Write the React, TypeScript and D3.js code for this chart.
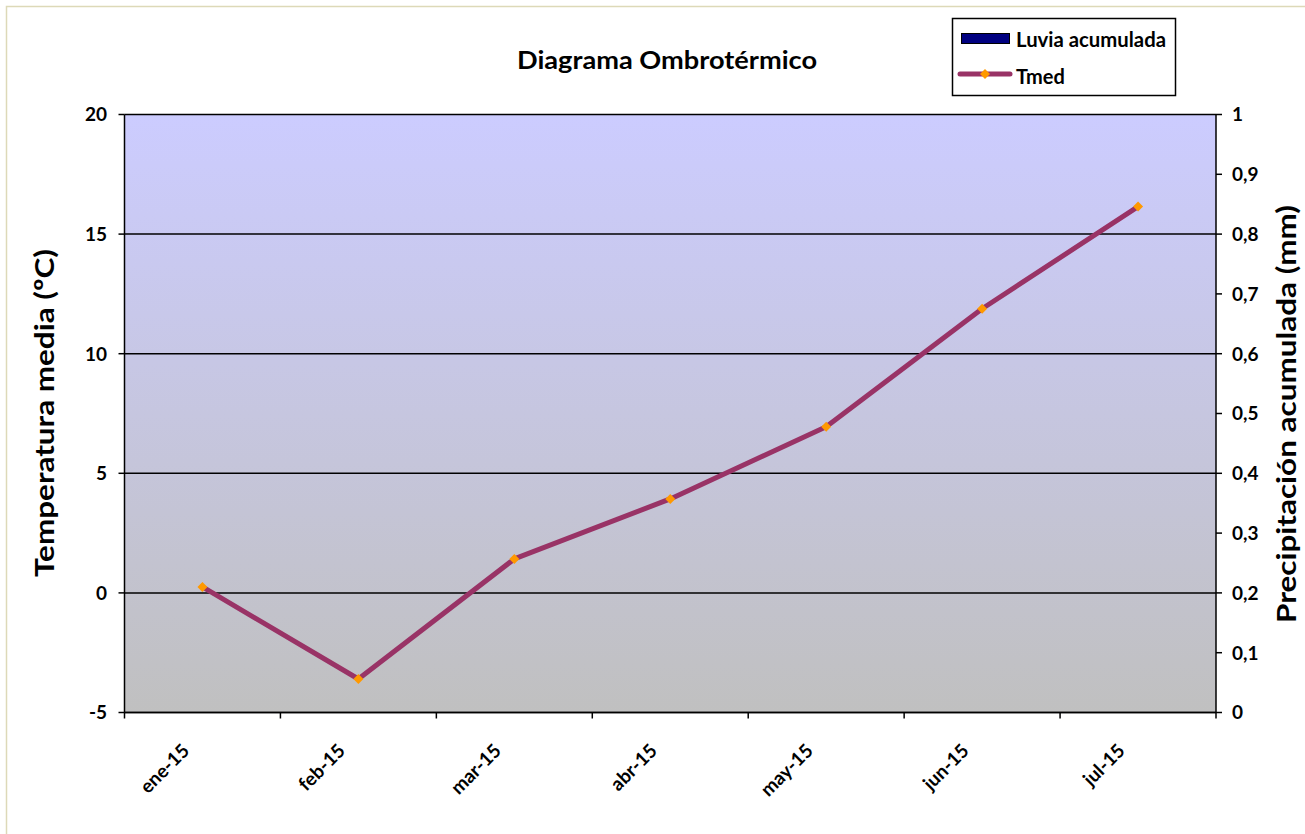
import React from "react";
import * as d3 from "d3";

const categories = ["ene-15", "feb-15", "mar-15", "abr-15", "may-15", "jun-15", "jul-15"];
const tmed = [0.25, -3.6, 1.42, 3.93, 6.95, 11.88, 16.15];
const leftTicks = [-5, 0, 5, 10, 15, 20];
const rightTicks = [0, 0.1, 0.2, 0.3, 0.4, 0.5, 0.6, 0.7, 0.8, 0.9, 1];

const W = 1305, H = 834;
const L = 124.5, R = 1216, T = 114.5, B = 712.5;
const FONT = "Lato, 'Open Sans', sans-serif";

export default function App() {
  const x = d3.scaleBand().domain(categories).range([L, R]);
  const y = d3.scaleLinear().domain([-5, 20]).range([B, T]);
  const y2 = d3.scaleLinear().domain([0, 1]).range([B, T]);
  const line = d3.line<number>().x((_, i) => x(categories[i])! + x.bandwidth() / 2).y((d) => y(d));
  const fmt = (v: number) => (v === 0 || v === 1 ? String(v) : v.toFixed(1).replace(".", ","));
  const diamond = (cx: number, cy: number, r: number) => `M${cx},${cy - r}L${cx + r},${cy}L${cx},${cy + r}L${cx - r},${cy}Z`;
  return (
    <svg width={W} height={H} style={{ position: "absolute", left: 0, top: 0, background: "#fff" }}>
      <defs>
        <linearGradient id="bg" x1="0" y1="0" x2="0" y2="1">
          <stop offset="0" stopColor="#CCCCFF" />
          <stop offset="1" stopColor="#C0C0C0" />
        </linearGradient>
      </defs>
      <rect x={0} y={0} width={W} height={H} fill="#fff" />
      <path d={`M6.5,${H}V6.5H${W}`} fill="none" stroke="#DDD9B8" strokeWidth={1.5} />
      <rect x={L} y={T} width={R - L} height={B - T} fill="url(#bg)" />
      {leftTicks.map((t) => (
        <line key={t} x1={L} x2={R} y1={y(t)} y2={y(t)} stroke="#000" strokeWidth={1.5} />
      ))}
      <line x1={L} x2={L} y1={T} y2={B} stroke="#000" strokeWidth={1.5} />
      <line x1={R} x2={R} y1={T} y2={B} stroke="#000" strokeWidth={1.5} />
      <line x1={L} x2={R} y1={B} y2={B} stroke="#000" strokeWidth={1.5} />
      {leftTicks.map((t) => (
        <g key={t}>
          <line x1={L - 6} x2={L} y1={y(t)} y2={y(t)} stroke="#000" strokeWidth={1.5} />
          <text x={107} y={y(t)} dy="0.36em" textAnchor="end" fontFamily={FONT} fontWeight="bold" fontSize={19}>{t}</text>
        </g>
      ))}
      {rightTicks.map((t) => (
        <g key={t}>
          <line x1={R} x2={R + 6} y1={y2(t)} y2={y2(t)} stroke="#000" strokeWidth={1.5} />
          <text x={1232} y={y2(t)} dy="0.36em" textAnchor="start" fontFamily={FONT} fontWeight="bold" fontSize={19}>{fmt(t)}</text>
        </g>
      ))}
      {categories.map((c) => (
        <line key={c} x1={x(c)!} x2={x(c)!} y1={B} y2={B + 6} stroke="#000" strokeWidth={1.5} />
      ))}
      <line x1={R} x2={R} y1={B} y2={B + 6} stroke="#000" strokeWidth={1.5} />
      {categories.map((c) => {
        const cx = x(c)! + x.bandwidth() / 2 - 12;
        const cy = 752;
        return (
          <text key={c} x={cx} y={cy} transform={`rotate(-45 ${cx} ${cy})`} textAnchor="end" fontFamily={FONT} fontWeight="bold" fontSize={19}>{c}</text>
        );
      })}
      <path d={line(tmed)!} fill="none" stroke="#993366" strokeWidth={5} strokeLinejoin="round" />
      {tmed.map((v, i) => (
        <path key={i} d={diamond(x(categories[i])! + x.bandwidth() / 2, y(v), 5)} fill="#FF9900" />
      ))}
      <text x={517} y={68.5} textLength={300} lengthAdjust="spacingAndGlyphs" fontFamily={FONT} fontWeight="bold" fontSize={24}>Diagrama Ombrotérmico</text>
      <text transform={`translate(54,577) rotate(-90)`} textLength={328} lengthAdjust="spacingAndGlyphs" fontFamily={FONT} fontWeight="bold" fontSize={27}>Temperatura media (ºC)</text>
      <text transform={`translate(1296,623) rotate(-90)`} textLength={418} lengthAdjust="spacingAndGlyphs" fontFamily={FONT} fontWeight="bold" fontSize={26}>Precipitación acumulada (mm)</text>
      <rect x={952.5} y={18.5} width={223} height={77} fill="#fff" stroke="#000" strokeWidth={1.5} />
      <rect x={961.5} y={33.5} width={48} height={10} fill="#000080" stroke="#000" strokeWidth={1} />
      <text x={1016} y={46.5} textLength={150} lengthAdjust="spacingAndGlyphs" fontFamily={FONT} fontWeight="bold" fontSize={20}>Luvia acumulada</text>
      <line x1={960} x2={1010} y1={74} y2={74} stroke="#993366" strokeWidth={5} strokeLinecap="round" />
      <path d={diamond(985, 74, 5)} fill="#FF9900" />
      <text x={1016} y={84} fontFamily={FONT} fontWeight="bold" fontSize={20}>Tmed</text>
    </svg>
  );
}
